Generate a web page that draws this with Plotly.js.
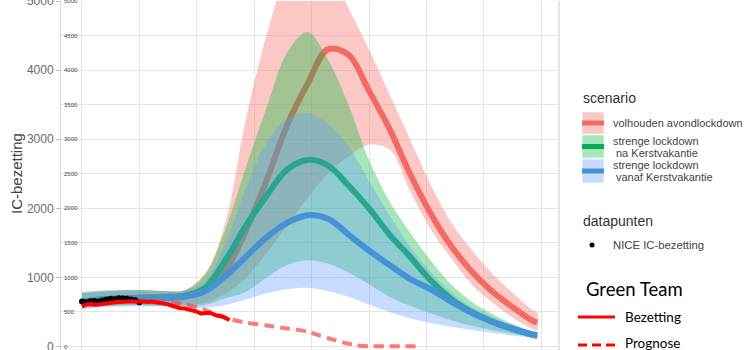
<!DOCTYPE html>
<html><head><meta charset="utf-8">
<script src="https://cdn.plot.ly/plotly-3.0.1.min.js"></script>
<style>html,body{margin:0;padding:0;background:#fff}#chart{width:750px;height:350px}</style>
</head><body><div id="chart"></div>
<script>
// ---- data (day index from start of NICE data) ----
const days      = [0,5,10,15,20,25,30,35,40,45,50,55,60,65,70,75,80,85,90,95,100,105,110,111];
// volhouden avondlockdown
const redMean   = [650,680,700,710,720,740,830,1100,1680,2400,3200,3800,4300,4220,3700,3150,2500,1930,1460,1090,800,571,370,345];
const redUpper  = [770,795,810,815,805,815,1050,1800,3300,4500,5400,5750,5500,4900,4300,3650,3000,2350,1800,1400,1060,780,520,490];
const redLower  = [555,585,600,605,600,600,630,760,1000,1350,1750,2150,2500,2750,2920,2850,2250,1700,1280,900,640,420,250,235];
// strenge lockdown na Kerstvakantie
const greenMean = [650,680,700,705,710,730,850,1250,1750,2180,2560,2700,2620,2330,2000,1620,1300,960,690,500,360,255,170,160];
const greenUpper= [790,810,820,820,805,815,1050,1700,2600,3450,4250,4550,4150,3500,2700,2100,1650,1250,900,650,470,330,220,210];
const greenLower= [560,585,595,595,595,590,600,700,790,1000,1180,1250,1200,1070,900,720,590,480,380,300,240,185,135,130];
// strenge lockdown vanaf Kerstvakantie
const blueMean  = [650,680,700,700,700,720,800,1020,1300,1580,1790,1900,1850,1620,1390,1180,980,830,650,490,360,260,170,160];
const blueUpper = [780,800,815,815,800,810,950,1500,2300,2950,3300,3380,3220,2900,2400,1900,1450,1080,790,580,430,310,215,205];
const blueLower = [540,570,580,580,580,570,560,600,680,770,830,850,800,720,610,500,410,340,285,240,200,160,125,120];
// NICE IC-bezetting (datapunten)
const niceDays  = [0,1,2,3,4,5,6,7,8,9,10,11,12,13,14];
const niceVals  = [650,640,655,660,650,665,680,690,685,700,695,690,680,670,640];
// Green Team: Bezetting
const bezDays   = [0,1,2,3,4,5,6,7,8,9,10,11,12,13,14,15,16,17,18,19,20,21,22,23,24,25,26,27,28,29,30,31,32,33,34,35,36];
const bezVals   = [580,610,615,605,610,620,630,635,640,645,650,650,655,650,655,650,645,650,640,630,625,610,590,570,555,550,540,520,505,480,485,490,470,445,440,420,385];
// Green Team: Prognose
const progDays  = [14,20,25,30,36,40,45,50,53,55,58,61,64,67,70,75,82];
const progVals  = [665,650,615,530,400,345,305,262,238,214,160,105,55,18,5,4,4];
// axis ticks
const bigTicks   = [0,1000,2000,3000,4000,5000];
const smallTicks = [0,500,1000,1500,2000,2500,3000,3500,4000,4500,5000];

// ---- helpers ----
const L=61, R=559, T=1, B=350;
const px = x => (x-L)/(R-L);
const py = y => (B-y)/(B-T);
function ribbon(up, lo, color){
  return {x: days.concat(days.slice().reverse()), y: up.concat(lo.slice().reverse()),
    type:'scatter', mode:'lines', fill:'toself', fillcolor:color,
    line:{width:0, shape:'spline', smoothing:1}, hoverinfo:'skip', showlegend:false};
}
function meanLine(vals, color){
  return {x: days, y: vals, type:'scatter', mode:'lines',
    line:{color:color, width:6, shape:'spline', smoothing:1}, showlegend:false};
}
const cRedF='rgba(248,118,109,0.4)', cGreenF='rgba(0,186,56,0.35)', cBlueF='rgba(97,156,255,0.35)';
const cRed='#f26a62', cGreen='#0aae52', cBlue='#4592d6';

const traces = [
  ribbon(redUpper, redLower, cRedF), meanLine(redMean, cRed),
  ribbon(greenUpper, greenLower, cGreenF), meanLine(greenMean, cGreen),
  ribbon(blueUpper, blueLower, cBlueF), meanLine(blueMean, cBlue),
  {x: niceDays, y: niceVals, type:'scatter', mode:'lines+markers',
   marker:{color:'#000', size:6}, line:{color:'#000', width:3}, showlegend:false},
  {x: progDays, y: progVals, type:'scatter', mode:'lines', yaxis:'y2',
   line:{color:'rgba(255,70,70,0.72)', width:4, dash:'10px,6px', shape:'spline', smoothing:0.6}, showlegend:false},
  {x: bezDays, y: bezVals, type:'scatter', mode:'lines', yaxis:'y2',
   line:{color:'#ff0000', width:4}, showlegend:false}
];

const font = 'Liberation Sans, Arial, sans-serif';
const team = 'Lato, Carlito, sans-serif';
const ann = [];
const shapes = [];
function txt(t, x, y, size, color, fam){
  ann.push({text:t, xref:'paper', yref:'paper', x:px(x), y:py(y), xanchor:'left', yanchor:'middle',
    showarrow:false, font:{size:size, color:color, family:fam||font}});
}
function key(y0, y1, fill, line){
  shapes.push({type:'rect', xref:'paper', yref:'paper', x0:px(582), x1:px(604), y0:py(y0), y1:py(y1),
    fillcolor:fill, line:{width:1, color:'rgba(255,255,255,0.6)'}});
  const ym=(y0+y1)/2;
  shapes.push({type:'line', xref:'paper', yref:'paper', x0:px(582), x1:px(604), y0:py(ym), y1:py(ym),
    line:{color:line, width:5}});
}
// y axis title
ann.push({text:'IC-bezetting', xref:'paper', yref:'paper', x:px(16), y:py(174), xanchor:'center', yanchor:'middle',
  textangle:-90, showarrow:false, font:{family:font, size:15, color:'#444'}});
txt('scenario', 581, 98, 14, '#333');
key(112, 134, cRedF, cRed);  txt('volhouden avondlockdown', 611, 123, 11, '#444');
key(135, 158, cGreenF, cGreen); txt('strenge lockdown', 611, 141, 11, '#444'); txt('na Kerstvakantie', 614, 153, 11, '#444');
key(159, 183, cBlueF, cBlue); txt('strenge lockdown', 611, 165, 11, '#444'); txt('vanaf Kerstvakantie', 614, 177, 11, '#444');
txt('datapunten', 581, 221, 14, '#333');
shapes.push({type:'circle', xref:'paper', yref:'paper', x0:px(589.5), x1:px(594.5), y0:py(242.5), y1:py(247.5), fillcolor:'#000', line:{width:0}});
txt('NICE IC-bezetting', 611, 245, 11.3, '#444');
txt('Green Team', 584, 289, 18.5, '#000', team);
shapes.push({type:'line', xref:'paper', yref:'paper', x0:px(578), x1:px(615), y0:py(317), y1:py(317), line:{color:'#ff0000', width:3}});
txt('Bezetting', 623, 317, 13.5, '#000', team);
shapes.push({type:'line', xref:'paper', yref:'paper', x0:px(578), x1:px(615), y0:py(345), y1:py(345), line:{color:'#ff0000', width:3, dash:'9px,5px'}});
txt('Prognose', 623, 343, 13.5, '#000', team);
// panel right border
shapes.push({type:'line', xref:'paper', yref:'paper', x0:1, x1:1, y0:0, y1:1, line:{color:'#dddddd', width:1.5}});

const layout = {
  width:750, height:350, margin:{l:61, r:191, t:1, b:0},
  paper_bgcolor:'#fff', plot_bgcolor:'#fff', showlegend:false,
  xaxis:{range:[-5.12, 116.34], showgrid:true, gridcolor:'#e4e4e4', gridwidth:1, tick0:0, dtick:14,
         showticklabels:false, ticks:'', zeroline:false, showline:false},
  yaxis:{range:[-50,5000], tickvals:bigTicks, ticktext:bigTicks.map(String), ticks:'outside', ticklen:4, tickcolor:'#bbb',
         showline:true, linecolor:'#d4d4d4', linewidth:1, showgrid:false, zeroline:false, ticklabeloverflow:'allow',
         tickfont:{family:font, size:12, color:'#6a6a6a'}},
  yaxis2:{range:[-50,5000], overlaying:'y', side:'left', anchor:'x', tickvals:smallTicks, ticktext:smallTicks.map(String),
          ticklabelposition:'inside', ticks:'', showgrid:true, gridcolor:'#e4e4e4', gridwidth:1, zeroline:false, showline:false,
          ticklabeloverflow:'allow', tickfont:{family:font, size:6, color:'#444'}},
  annotations: ann, shapes: shapes
};
Plotly.newPlot('chart', traces, layout, {displayModeBar:false, staticPlot:true});
</script></body></html>
